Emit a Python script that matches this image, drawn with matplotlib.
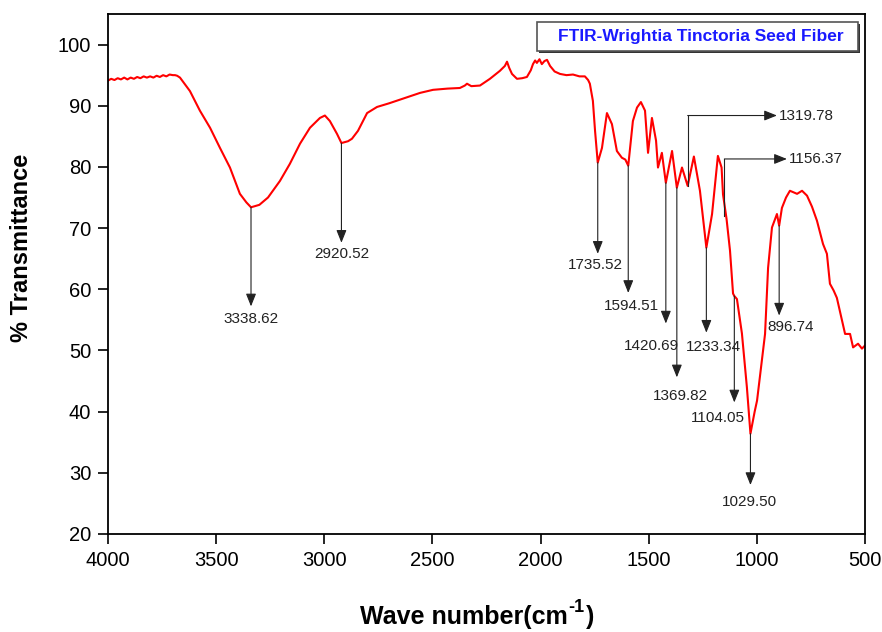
import matplotlib
matplotlib.use("Agg")
import matplotlib.pyplot as plt
from matplotlib.patches import Rectangle

plt.rcParams['font.family'] = ['Liberation Sans', 'DejaVu Sans']

# ---- spectrum (wavenumber, % transmittance) ----
wavenumber = [4000, 3985, 3970, 3955, 3940, 3925, 3910, 3895, 3880, 3865, 3850,
              3835, 3820, 3805, 3790, 3775, 3760, 3745, 3730, 3715, 3700, 3690,
              3680, 3667, 3621, 3575, 3528, 3482, 3436, 3390, 3360, 3338.62,
              3300, 3260, 3205, 3159, 3112, 3066, 3020, 2997, 2974, 2941, 2920.52,
              2890, 2872, 2844, 2802, 2756, 2700, 2650, 2600, 2557, 2497, 2430,
              2373, 2350, 2340, 2320, 2280, 2234, 2188, 2165, 2155, 2145, 2132,
              2109, 2085, 2063, 2045, 2035, 2025, 2017, 2005, 1994, 1982, 1970,
              1956, 1935, 1910, 1880, 1850, 1820, 1795, 1780, 1772, 1758, 1748,
              1735.52, 1716, 1693, 1670, 1647, 1624, 1608, 1594.51, 1573, 1554,
              1536, 1517, 1503, 1485, 1466, 1457, 1439, 1420.69, 1392, 1369.82,
              1346, 1319.78, 1291, 1263, 1233.34, 1207, 1180, 1163, 1156.37, 1140,
              1124, 1110, 1104.05, 1092, 1069, 1046, 1029.50, 1010, 999, 986, 962,
              948, 930, 907, 896.74, 884, 865, 847, 814, 791, 768, 745, 722, 694,
              676, 662, 645, 630, 606, 592, 569, 555, 532, 514, 500]
transmittance = [94.1, 94.4, 94.2, 94.5, 94.3, 94.6, 94.3, 94.6, 94.4, 94.7, 94.5,
                 94.8, 94.6, 94.8, 94.6, 94.9, 94.7, 95.0, 94.8, 95.1, 95.0, 95.0,
                 94.9, 94.6, 92.4, 89.2, 86.4, 83.1, 79.9, 75.6, 74.2, 73.4,
                 73.8, 75.0, 77.7, 80.5, 83.8, 86.4, 88.0, 88.4, 87.5, 85.4, 83.9,
                 84.2, 84.6, 85.9, 88.8, 89.8, 90.4, 91.0, 91.6, 92.1, 92.6, 92.8,
                 92.9, 93.3, 93.6, 93.2, 93.3, 94.4, 95.7, 96.5, 97.2, 96.2, 95.2,
                 94.4, 94.5, 94.7, 95.8, 96.8, 97.4, 97.0, 97.6, 96.8, 97.3, 97.5,
                 96.5, 95.6, 95.2, 95.0, 95.1, 94.8, 94.8, 94.2, 93.6, 90.8, 85.9,
                 80.7, 83.1, 88.8, 87.0, 82.6, 81.5, 81.2, 80.2, 87.5, 89.7,
                 90.6, 89.2, 82.3, 88.0, 84.3, 79.9, 82.3, 77.4, 82.6, 76.6,
                 79.9, 76.9, 81.7, 76.1, 66.8, 72.3, 81.8, 79.9, 75.5, 71.5,
                 66.3, 59.3, 58.9, 58.4, 52.8, 44.0, 36.4, 40.0, 41.8, 45.6, 52.7,
                 63.5, 70.1, 72.3, 70.4, 73.3, 75.0, 76.1, 75.6, 76.1, 75.3, 73.5, 71.2,
                 67.4, 65.8, 60.9, 59.8, 58.6, 54.9, 52.7, 52.7, 50.5, 51.1, 50.3, 50.8]

# ---- peak annotations ----
peak_labels = ['3338.62', '2920.52', '1735.52', '1594.51', '1420.69',
               '1369.82', '1233.34', '1104.05', '1029.50', '896.74']
peak_wn = [3338.62, 2920.52, 1735.52, 1594.51, 1420.69,
           1369.82, 1233.34, 1104.05, 1029.50, 896.74]
peak_start = [73.4, 83.9, 80.7, 80.2, 77.4, 76.6, 66.8, 58.9, 36.4, 70.4]
peak_tip = [57.2, 67.6, 65.8, 59.4, 54.4, 45.6, 52.9, 41.5, 28.0, 55.7]
label_x = [3338, 2918, 1748, 1580, 1489, 1351, 1200, 1182, 1032, 842]
label_y = [55.2, 65.8, 63.9, 57.2, 50.8, 42.6, 50.6, 39.0, 25.3, 53.9]

bent_labels = ['1319.78', '1156.37']
bent_wn = [1319.78, 1150.0]
bent_start = [76.9, 72.0]
bent_level = [88.4, 81.3]
bent_tip = [907, 861]
bent_text = [898, 851]

title_text = 'FTIR-Wrightia Tinctoria Seed Fiber'

fig = plt.figure(figsize=(8.82, 6.32), dpi=100)
ax = fig.add_axes([0.1224, 0.1551, 0.8583, 0.8228])

ax.plot(wavenumber, transmittance, color='#ff0000', lw=1.5)

ax.set_xlim(4000, 500)
ax.set_ylim(20, 105)
ax.set_xticks([4000, 3500, 3000, 2500, 2000, 1500, 1000, 500])
ax.set_yticks([20, 30, 40, 50, 60, 70, 80, 90, 100])
ax.tick_params(direction='out', length=7, width=1.2, labelsize=14.5, pad=5, colors='black')
for s in ax.spines.values():
    s.set_linewidth(1.3)

arrow_kw = dict(arrowstyle='-|>,head_length=0.55,head_width=0.22', color='#222222',
                lw=0.8, shrinkA=0, shrinkB=0, mutation_scale=14)

for lab, x, y0, y1, tx, ty in zip(peak_labels, peak_wn, peak_start, peak_tip, label_x, label_y):
    ax.annotate('', xy=(x, y1), xytext=(x, y0), arrowprops=arrow_kw)
    ax.text(tx, ty, lab, ha='center', va='center', fontsize=11, color='#222222')

for lab, x, y0, yl, xt, xtx in zip(bent_labels, bent_wn, bent_start, bent_level, bent_tip, bent_text):
    ax.plot([x, x], [y0, yl], color='#222222', lw=0.8)
    ax.annotate('', xy=(xt, yl), xytext=(x, yl), arrowprops=arrow_kw)
    ax.text(xtx, yl, lab, ha='left', va='center', fontsize=11, color='#222222')

# title box
fig.patches.append(Rectangle((539 / 882, 1 - 53 / 632), 321 / 882, 29 / 632,
                             transform=fig.transFigure, facecolor='#333333',
                             edgecolor='none', zorder=5))
fig.patches.append(Rectangle((537 / 882, 1 - 51 / 632), 321 / 882, 29 / 632,
                             transform=fig.transFigure, facecolor='white',
                             edgecolor='#555555', lw=1.2, zorder=6))
fig.text(701 / 882, 1 - 37 / 632, title_text, ha='center', va='center',
         fontsize=12.5, fontweight='bold', color='#1a1aff', zorder=7)

fig.text(22 / 882, 1 - 248 / 632, '% Transmittance', rotation=90, ha='center',
         va='center', fontsize=17, fontweight='bold')

# x-axis label with plain hyphen superscript
renderer = fig.canvas.get_renderer()
base_y = 0.012
t_main = fig.text(0, base_y, 'Wave number(cm', ha='left', va='baseline',
                  fontsize=18, fontweight='bold')
t_sup = fig.text(0, base_y, '-1', ha='left', va='baseline', fontsize=13,
                 fontweight='bold')
t_end = fig.text(0, base_y, ')', ha='left', va='baseline', fontsize=18,
                 fontweight='bold')
w_main = t_main.get_window_extent(renderer).width / fig.bbox.width
w_sup = t_sup.get_window_extent(renderer).width / fig.bbox.width
w_end = t_end.get_window_extent(renderer).width / fig.bbox.width
x0 = 476 / 882 - (w_main + w_sup + w_end) / 2
t_main.set_x(x0)
t_sup.set_x(x0 + w_main + 1 / 882)
t_sup.set_y(base_y + 12 / 632)
t_end.set_x(x0 + w_main + w_sup + 2 / 882)

fig.savefig('out.png', dpi=100)
